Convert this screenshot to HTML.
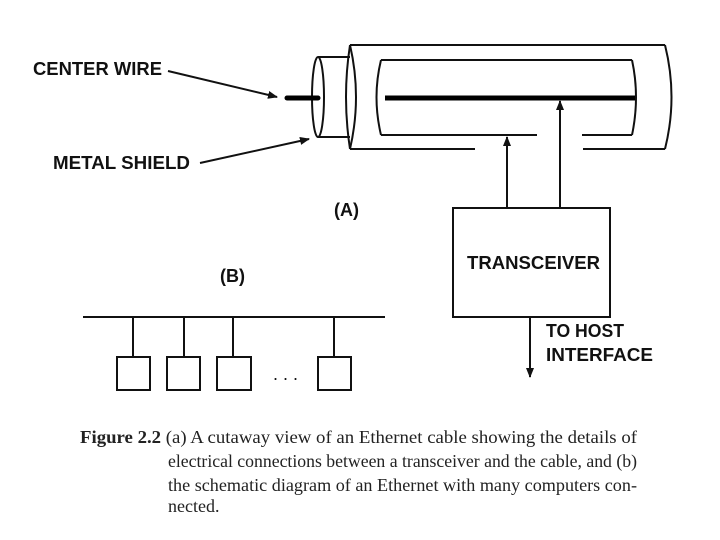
<!DOCTYPE html>
<html><head><meta charset="utf-8"><style>
html,body{margin:0;padding:0;background:#fff;}
svg{display:block;}
.l{font-family:"Liberation Sans",sans-serif;font-weight:bold;font-size:18px;fill:#111;}
.c{font-family:"Liberation Serif",serif;font-size:18px;fill:#222;}
</style></head><body>
<svg width="720" height="540" viewBox="0 0 720 540" xmlns="http://www.w3.org/2000/svg">
<defs><marker id="a" markerWidth="10" markerHeight="8" refX="9" refY="4" orient="auto" markerUnits="userSpaceOnUse"><path d="M0,0 L10,4 L0,8 Z" fill="#111"/></marker></defs>
<g stroke="#111" stroke-width="2" fill="none">
<line x1="350" y1="45" x2="665" y2="45"/>
<line x1="350" y1="149" x2="475" y2="149"/>
<line x1="583" y1="149" x2="665" y2="149"/>
<path d="M350,45 Q362,97 350,149"/>
<path d="M350,45 Q342,97 350,149"/>
<path d="M665,45 Q678,97 665,149"/>
<line x1="381" y1="60" x2="632" y2="60"/>
<line x1="381" y1="135" x2="537" y2="135"/>
<line x1="582" y1="135" x2="632" y2="135"/>
<path d="M381,60 Q372,97 381,135"/>
<path d="M632,60 Q640,97 632,135"/>
<ellipse cx="318" cy="97" rx="6" ry="40"/>
<line x1="318" y1="57" x2="350" y2="57"/>
<line x1="318" y1="137" x2="350" y2="137"/>
<line x1="168" y1="71" x2="277" y2="97" marker-end="url(#a)"/>
<line x1="200" y1="163" x2="309" y2="139" marker-end="url(#a)"/>
<rect x="453" y="208" width="157" height="109"/>
<line x1="507" y1="208" x2="507" y2="137" marker-end="url(#a)"/>
<line x1="560" y1="208" x2="560" y2="101" marker-end="url(#a)"/>
<line x1="530" y1="317" x2="530" y2="377" marker-end="url(#a)"/>
<line x1="83" y1="317" x2="385" y2="317"/>
<line x1="133" y1="317" x2="133" y2="357"/>
<line x1="184" y1="317" x2="184" y2="357"/>
<line x1="233" y1="317" x2="233" y2="357"/>
<line x1="334" y1="317" x2="334" y2="357"/>
<rect x="117" y="357" width="33" height="33"/>
<rect x="167" y="357" width="33" height="33"/>
<rect x="217" y="357" width="34" height="33"/>
<rect x="318" y="357" width="33" height="33"/>
</g>
<line x1="385" y1="98" x2="635" y2="98" stroke="#000" stroke-width="5"/>
<line x1="287" y1="98" x2="318" y2="98" stroke="#000" stroke-width="5" stroke-linecap="round"/>
<text x="33" y="75" class="l" textLength="129" lengthAdjust="spacingAndGlyphs">CENTER WIRE</text>
<text x="53" y="169" class="l" textLength="137" lengthAdjust="spacingAndGlyphs">METAL SHIELD</text>
<text x="334" y="216" class="l">(A)</text>
<text x="467" y="269" class="l" textLength="133" lengthAdjust="spacingAndGlyphs">TRANSCEIVER</text>
<text x="220" y="282" class="l">(B)</text>
<text x="546" y="337" class="l" textLength="78" lengthAdjust="spacingAndGlyphs">TO HOST</text>
<text x="546" y="361" class="l" textLength="107" lengthAdjust="spacingAndGlyphs">INTERFACE</text>
<text x="273" y="380" style="font-family:'Liberation Sans',sans-serif;font-size:18px;fill:#111">. . .</text>
<text x="80" y="443" class="c" textLength="557" lengthAdjust="spacingAndGlyphs"><tspan font-weight="bold">Figure 2.2</tspan> (a) A cutaway view of an Ethernet cable showing the details of</text>
<text x="168" y="467" class="c" textLength="469" lengthAdjust="spacingAndGlyphs">electrical connections between a transceiver and the cable, and (b)</text>
<text x="168" y="491" class="c" textLength="469" lengthAdjust="spacingAndGlyphs">the schematic diagram of an Ethernet with many computers con-</text>
<text x="168" y="512" class="c">nected.</text>
</svg>
</body></html>
